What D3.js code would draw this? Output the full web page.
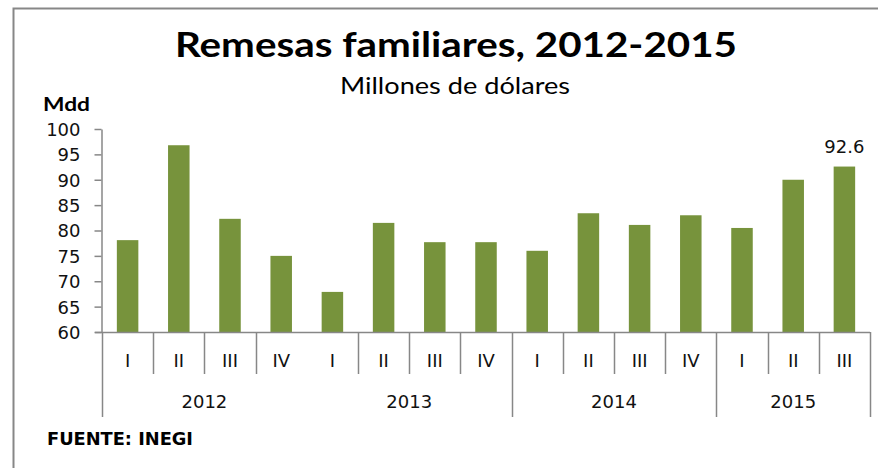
<!DOCTYPE html>
<html>
<head>
<meta charset="utf-8">
<script src="https://cdn.jsdelivr.net/npm/d3@7"></script>
<style>
  body { margin: 0; background: #fff; }
</style>
</head>
<body>
<div id="chart"></div>
<script>
// data
const years = ['2012', '2013', '2014', '2015'];
const quartersPerYear = [4, 4, 4, 3];
const quarterLabels = ['I', 'II', 'III', 'IV', 'I', 'II', 'III', 'IV', 'I', 'II', 'III', 'IV', 'I', 'II', 'III'];
const values = [78.1, 96.8, 82.3, 75.0, 67.9, 81.5, 77.7, 77.7, 76.0, 83.4, 81.1, 83.0, 80.5, 90.0, 92.6];
const yTicks = [60, 65, 70, 75, 80, 85, 90, 95, 100];

const W = 878, H = 468;
const margin = { top: 129, right: 8, bottom: 136, left: 102 };

const svg = d3.select('#chart')
    .append('svg')
    .attr('width', W)
    .attr('height', H);

const gray = '#878787';
const green = '#77933C';

// outer frame (only top and left edge visible)
svg.append('path')
    .attr('d', `M13.5 ${H} V8.5 H${W}`)
    .attr('fill', 'none')
    .attr('stroke', gray)
    .attr('stroke-width', 2);

// titles
svg.append('text')
    .attr('x', 456).attr('y', 57)
    .attr('text-anchor', 'middle')
    .attr('font-family', 'Lato, "Open Sans", sans-serif')
    .attr('font-weight', 'bold')
    .attr('font-size', 34)
    .attr('textLength', 562)
    .attr('lengthAdjust', 'spacingAndGlyphs')
    .text('Remesas familiares, 2012-2015');

svg.append('text')
    .attr('x', 455).attr('y', 94)
    .attr('text-anchor', 'middle')
    .attr('font-family', 'Lato, "Open Sans", sans-serif')
    .attr('font-size', 23)
    .attr('textLength', 230)
    .attr('lengthAdjust', 'spacingAndGlyphs')
    .text('Millones de dólares');

svg.append('text')
    .attr('x', 43).attr('y', 111)
    .attr('font-family', 'Lato, "Open Sans", sans-serif')
    .attr('font-weight', 'bold')
    .attr('font-size', 19)
    .attr('textLength', 47)
    .attr('lengthAdjust', 'spacingAndGlyphs')
    .text('Mdd');

svg.append('text')
    .attr('x', 47).attr('y', 445)
    .attr('font-family', '"DejaVu Sans", sans-serif')
    .attr('font-weight', 'bold')
    .attr('font-size', 17)
    .attr('textLength', 146)
    .attr('lengthAdjust', 'spacingAndGlyphs')
    .text('FUENTE: INEGI');

// scales
const x = d3.scaleBand()
    .domain(d3.range(values.length))
    .range([margin.left, W - margin.right])
    .paddingInner(0.58)
    .paddingOuter(0.29);

const y = d3.scaleLinear()
    .domain([60, 100])
    .range([H - margin.bottom, margin.top]);

const y0 = y(60);

// bars
svg.append('g')
    .selectAll('rect')
    .data(values)
    .join('rect')
    .attr('x', (d, i) => x(i))
    .attr('y', d => y(d))
    .attr('width', x.bandwidth())
    .attr('height', d => y0 - y(d))
    .attr('fill', green);

// label on last bar
const last = values.length - 1;
svg.append('text')
    .attr('x', x(last) + x.bandwidth() / 2)
    .attr('y', y(values[last]) - 14)
    .attr('text-anchor', 'middle')
    .attr('font-family', '"DejaVu Sans", sans-serif')
    .attr('font-size', 18)
    .attr('fill', '#111')
    .text(values[last].toFixed(1));

// y axis
const yAxis = svg.append('g')
    .attr('transform', `translate(${margin.left - 0.5},0)`)
    .call(d3.axisLeft(y).tickValues(yTicks).tickSize(7).tickSizeOuter(0).tickPadding(14));

yAxis.select('.domain').attr('stroke', gray).attr('stroke-width', 1.5);
yAxis.selectAll('.tick line').attr('stroke', gray).attr('stroke-width', 1.5);
yAxis.selectAll('.tick text')
    .attr('font-family', '"DejaVu Sans", sans-serif')
    .attr('font-size', 18)
    .attr('fill', '#111')
    .attr('dy', '0.36em');

// x axis: baseline, quarter and year separators
const step = x.step();
const x0 = x.range()[0];
const xAxis = svg.append('g');

xAxis.append('line')
    .attr('x1', margin.left - 7).attr('x2', x.range()[1])
    .attr('y1', y0 + 0.5).attr('y2', y0 + 0.5)
    .attr('stroke', gray).attr('stroke-width', 1.5);

// year boundary indices
const yearStarts = [];
let acc = 0;
quartersPerYear.forEach(n => { yearStarts.push(acc); acc += n; });
const boundaries = d3.range(values.length + 1);

boundaries.forEach(b => {
    const bx = Math.round(x0 + b * step) + 0.5;
    const isYear = yearStarts.includes(b) || b === values.length;
    // the 2012/2013 separator is missing in the reference
    if (b === 4) return;
    xAxis.append('line')
        .attr('x1', bx).attr('x2', bx)
        .attr('y1', y0).attr('y2', isYear ? 417 : 374)
        .attr('stroke', gray).attr('stroke-width', 1.5);
});

xAxis.selectAll('text.q')
    .data(quarterLabels)
    .join('text')
    .attr('class', 'q')
    .attr('x', (d, i) => x0 + (i + 0.5) * step)
    .attr('y', 367)
    .attr('text-anchor', 'middle')
    .attr('font-family', '"DejaVu Sans", sans-serif')
    .attr('font-size', 18)
    .attr('fill', '#111')
    .text(d => d);

xAxis.selectAll('text.yr')
    .data(years)
    .join('text')
    .attr('class', 'yr')
    .attr('x', (d, i) => x0 + (yearStarts[i] + quartersPerYear[i] / 2) * step)
    .attr('y', 408)
    .attr('text-anchor', 'middle')
    .attr('font-family', '"DejaVu Sans", sans-serif')
    .attr('font-size', 18)
    .attr('fill', '#111')
    .text(d => d);
</script>
</body>
</html>
